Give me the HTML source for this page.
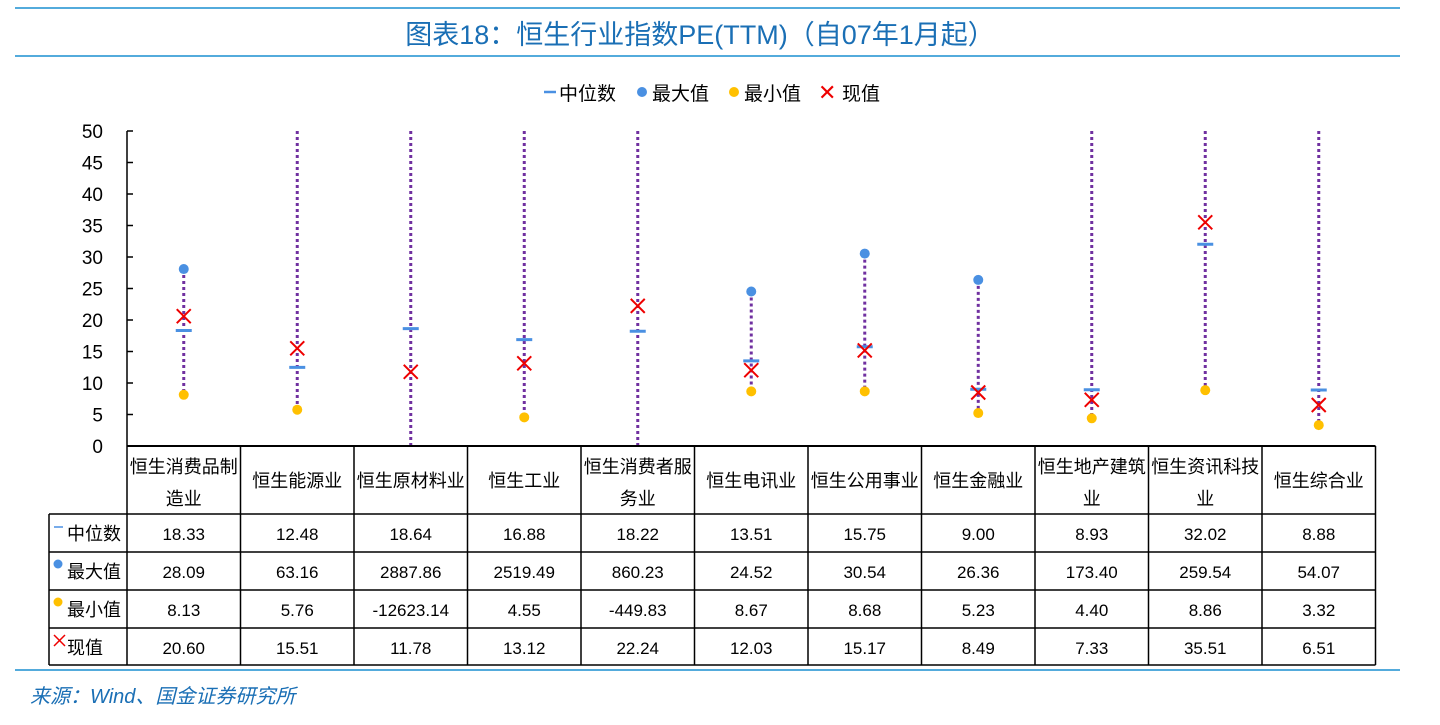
<!DOCTYPE html>
<html><head><meta charset="utf-8"><style>
body{margin:0;width:1440px;height:720px;background:#fff;overflow:hidden;font-family:"Liberation Sans","Noto Sans CJK SC",sans-serif}
svg text{font-family:"Liberation Sans","Noto Sans CJK SC",sans-serif}
</style></head><body>
<svg id="c" width="1440" height="720">
<line x1="15" y1="8" x2="1400" y2="8" stroke="#1a8fd0" stroke-width="1.5"/>
<line x1="15" y1="56" x2="1400" y2="56" stroke="#1a8fd0" stroke-width="1.5"/>
<text x="700" y="44" text-anchor="middle" font-size="27" fill="#1a6fb5">图表18：恒生行业指数PE(TTM)（自07年1月起）</text>
<g font-size="19" fill="#000">
<line x1="544" y1="92" x2="556" y2="92" stroke="#4a90e2" stroke-width="2.5"/><text x="559" y="100">中位数</text>
<circle cx="642" cy="92" r="5" fill="#4a90e2"/><text x="652" y="100">最大值</text>
<circle cx="734" cy="92" r="5" fill="#ffc000"/><text x="744" y="100">最小值</text>
<text x="818" y="100" fill="#e00" font-size="22">✕</text><text x="842" y="100">现值</text>
</g>
<g id="plot"></g>
<line x1="15" y1="670" x2="1400" y2="670" stroke="#1a8fd0" stroke-width="1.5"/>
<text x="30" y="703" font-size="20" fill="#1a6fb5" font-style="italic">来源：Wind、国金证券研究所</text>
</svg>
<script>
const categories=[["恒生消费品制","造业"],["恒生能源业"],["恒生原材料业"],["恒生工业"],["恒生消费者服","务业"],["恒生电讯业"],["恒生公用事业"],["恒生金融业"],["恒生地产建筑","业"],["恒生资讯科技","业"],["恒生综合业"]];
const medianVals=[18.33,12.48,18.64,16.88,18.22,13.51,15.75,9.00,8.93,32.02,8.88];
const maxVals=[28.09,63.16,2887.86,2519.49,860.23,24.52,30.54,26.36,173.40,259.54,54.07];
const minVals=[8.13,5.76,-12623.14,4.55,-449.83,8.67,8.68,5.23,4.40,8.86,3.32];
const currentVals=[20.60,15.51,11.78,13.12,22.24,12.03,15.17,8.49,7.33,35.51,6.51];
const yTicks=[0,5,10,15,20,25,30,35,40,45,50];
const rowLabels=["中位数","最大值","最小值","现值"];
const X0=127,CW=113.5,Y0=446,YT=131,YMAX=50;
const y=v=>Y0-(Math.max(0,Math.min(YMAX,v))/YMAX)*(Y0-YT);
const xc=i=>X0+CW*(i+0.5);
const NS="http://www.w3.org/2000/svg",g=document.getElementById('plot');
function mk(t,a,p){const e=document.createElementNS(NS,t);for(const k in a)e.setAttribute(k,a[k]);(p||g).appendChild(e);return e;}
let e=mk('line',{x1:X0,y1:YT,x2:X0,y2:Y0,stroke:'#000','stroke-width':1.5});


yTicks.forEach(t=>{mk('line',{x1:X0,y1:y(t),x2:X0+6,y2:y(t),stroke:'#000','stroke-width':1.5});
const tx=mk('text',{x:103,y:y(t)+7,'text-anchor':'end','font-size':19});tx.textContent=t;

});
categories.forEach((c,i)=>{const x=xc(i);
let l=mk('line',{x1:x,y1:y(maxVals[i]),x2:x,y2:y(minVals[i]),stroke:'#7030a0','stroke-width':3,'stroke-dasharray':'3 3'});


if(maxVals[i]<=YMAX){let m=mk('circle',{cx:x,cy:y(maxVals[i]),r:5,fill:'#4a90e2'});

}
if(minVals[i]>=0){let m=mk('circle',{cx:x,cy:y(minVals[i]),r:5,fill:'#ffc000'});

}
let md=mk('line',{x1:x-8,y1:y(medianVals[i]),x2:x+8,y2:y(medianVals[i]),stroke:'#4a90e2','stroke-width':3});


const cy=y(currentVals[i]);
let cx=mk('path',{d:`M${x-7},${cy-7}L${x+7},${cy+7}M${x+7},${cy-7}L${x-7},${cy+7}`,stroke:'#e00','stroke-width':2});


});
// table
const rowsY=[446,514,552,590,628,665];
const xr=X0+CW*11;
mk('line',{x1:X0,y1:446,x2:xr,y2:446,stroke:'#000','stroke-width':2});
for(let r=1;r<rowsY.length;r++)mk('line',{x1:49,y1:rowsY[r],x2:xr,y2:rowsY[r],stroke:'#000','stroke-width':1.5});
mk('line',{x1:49,y1:514,x2:49,y2:665,stroke:'#000','stroke-width':1.5});
for(let i=0;i<=11;i++)mk('line',{x1:X0+CW*i,y1:446,x2:X0+CW*i,y2:665,stroke:'#000','stroke-width':1.5});
categories.forEach((c,i)=>{c.forEach((s,k)=>{const t=mk('text',{x:xc(i),y:c.length>1?473+k*32:487,'text-anchor':'middle','font-size':18});t.textContent=s;

});});
const series=[medianVals,maxVals,minVals,currentVals];
series.forEach((arr,r)=>{const ty=rowsY[r+1]+26;
const lt=mk('text',{x:67,y:ty,'font-size':18});lt.textContent=rowLabels[r];


arr.forEach((v,i)=>{const t=mk('text',{x:xc(i),y:ty,'text-anchor':'middle','font-size':17});t.textContent=v.toFixed(2);

});});
mk('line',{x1:54,y1:527,x2:63,y2:527,stroke:'#4a90e2','stroke-width':1.5});
mk('circle',{cx:58,cy:564,r:4.5,fill:'#4a90e2'});
mk('circle',{cx:58,cy:602,r:4.5,fill:'#ffc000'});
mk('path',{d:'M54,635L65,646M65,635L54,646',stroke:'#e00','stroke-width':1.5});
</script>
</body></html>
